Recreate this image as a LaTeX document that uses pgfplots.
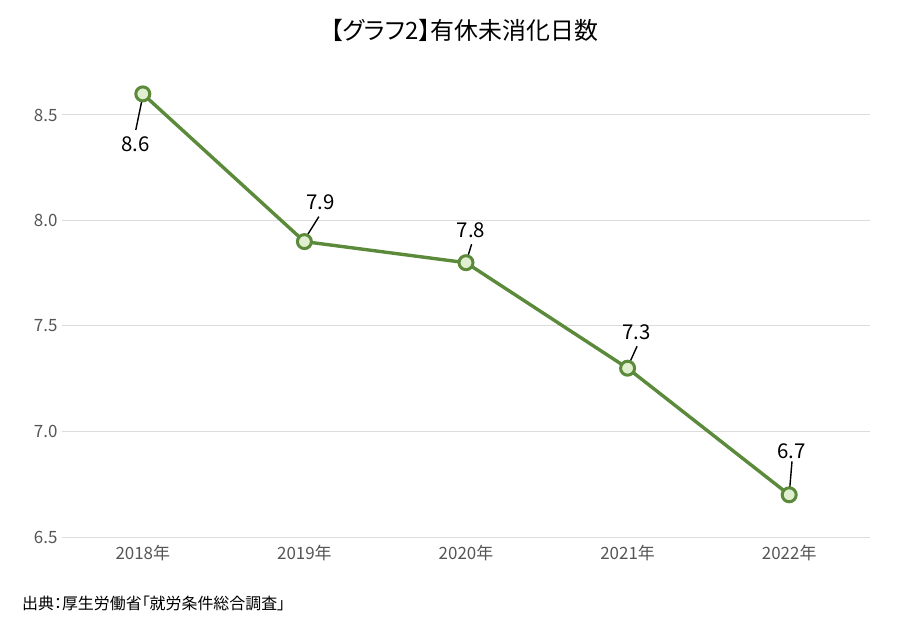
\documentclass[border=0pt]{standalone}
\usepackage{fontspec}
\setmainfont{Noto Sans CJK JP}[RawFeature=+palt]
\usepackage{pgfplots}
\pgfplotsset{compat=1.18}
\definecolor{lgreen}{HTML}{5A8A3A}
\definecolor{lfill}{HTML}{E0EFD0}
\definecolor{gridc}{HTML}{DCDCDC}
\definecolor{tickc}{HTML}{555555}
\begin{document}
\begin{tikzpicture}
\path[use as bounding box] (-62bp,-93bp) rectangle (838bp,537bp);
\begin{axis}[
  at={(0,0)}, anchor=south west,
  scale only axis, width=808bp, height=474.75bp,
  xmin=-0.5, xmax=4.5, ymin=6.5, ymax=8.75,
  axis line style={draw=none},
  major tick length=0pt,
  xtick={0,1,2,3,4},
  xticklabels={2018年,2019年,2020年,2021年,2022年},
  ytick={6.5,7,7.5,8,8.5},
  yticklabels={6.5,7.0,7.5,8.0,8.5},
  ymajorgrids, grid style={gridc, line width=1bp},
  tick label style={font=\fontsize{17}{20}\selectfont, text=tickc},
  xticklabel style={yshift=-5bp},
  yticklabel style={xshift=-1bp},
  /pgf/number format/assume math mode=true,
  clip=false,
]
\addplot[lgreen, line width=3.4bp, mark=*, mark size=7bp,
  mark options={fill=lfill, draw=lgreen, line width=3bp}]
  coordinates {(0,8.6) (1,7.9) (2,7.8) (3,7.3) (4,6.7)};
\begin{scope}[every node/.style={font=\fontsize{20.5}{24}\selectfont, text=black, inner sep=0pt}]
\draw[black, line width=1.4bp] ([shift={(-0.8bp,-6bp)}]axis cs:0,8.6) -- ([shift={(-7bp,-36bp)}]axis cs:0,8.6);
\node at ([shift={(-7bp,-50bp)}]axis cs:0,8.6) {8.6};
\draw[black, line width=1.4bp] ([shift={(2bp,5bp)}]axis cs:1,7.9) -- ([shift={(14.5bp,25bp)}]axis cs:1,7.9);
\node at ([shift={(16bp,39.5bp)}]axis cs:1,7.9) {7.9};
\draw[black, line width=1.4bp] ([shift={(1.6bp,5.5bp)}]axis cs:2,7.8) -- ([shift={(5.6bp,18.5bp)}]axis cs:2,7.8);
\node at ([shift={(5bp,32bp)}]axis cs:2,7.8) {7.8};
\draw[black, line width=1.4bp] ([shift={(2bp,5.5bp)}]axis cs:3,7.3) -- ([shift={(9.5bp,22bp)}]axis cs:3,7.3);
\node at ([shift={(8.7bp,35.5bp)}]axis cs:3,7.3) {7.3};
\draw[black, line width=1.4bp] ([shift={(0.5bp,6bp)}]axis cs:4,6.7) -- ([shift={(2.8bp,33.5bp)}]axis cs:4,6.7);
\node at ([shift={(2.6bp,44bp)}]axis cs:4,6.7) {6.7};
\end{scope}
\end{axis}
\node[font=\fontsize{24}{27}\selectfont, inner sep=0pt] at (402.5bp,507bp) {【グラフ2】有休未消化日数};
\node[font=\fontsize{16}{19}\selectfont, inner sep=0pt, anchor=west] at (-40bp,-66bp) {出典：厚生労働省「就労条件総合調査」};
\end{tikzpicture}
\end{document}
